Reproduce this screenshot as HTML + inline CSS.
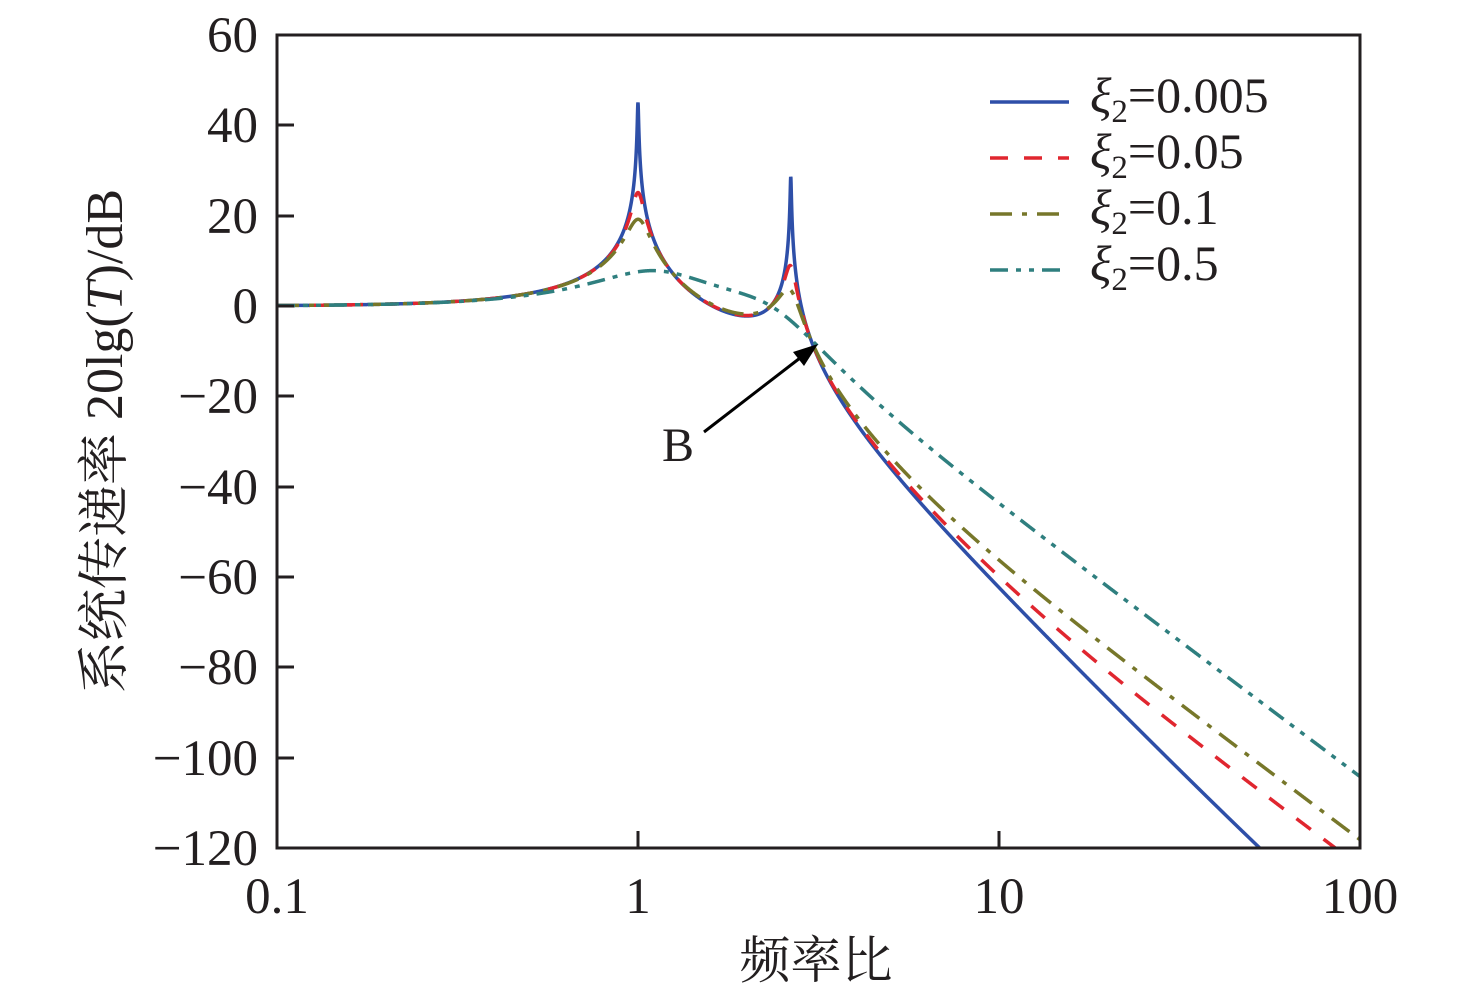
<!DOCTYPE html>
<html><head><meta charset="utf-8"><style>
html,body{margin:0;padding:0;background:#fff;}
svg text{font-family:"Liberation Serif","Noto Serif CJK SC",serif;fill:#231f20;}
</style></head><body>
<svg id="s" width="1476" height="998" viewBox="0 0 1476 998" xmlns="http://www.w3.org/2000/svg">
<defs><clipPath id="c"><rect x="277" y="35" width="1083" height="813"/></clipPath></defs>
<g id="curves" clip-path="url(#c)"></g>
<rect x="277" y="35" width="1083" height="813" fill="none" stroke="#231f20" stroke-width="3"/>
<g stroke="#231f20" stroke-width="3">
<line x1="638" y1="848" x2="638" y2="831"/><line x1="999" y1="848" x2="999" y2="831"/>
<line x1="277" y1="125" x2="294" y2="125"/><line x1="277" y1="216" x2="294" y2="216"/>
<line x1="277" y1="306" x2="294" y2="306"/><line x1="277" y1="396" x2="294" y2="396"/>
<line x1="277" y1="487" x2="294" y2="487"/><line x1="277" y1="577" x2="294" y2="577"/>
<line x1="277" y1="667" x2="294" y2="667"/><line x1="277" y1="758" x2="294" y2="758"/>
</g>
<g font-size="51" text-anchor="end">
<text x="258" y="52">60</text><text x="258" y="142">40</text><text x="258" y="233">20</text>
<text x="258" y="323">0</text><text x="258" y="413">−20</text><text x="258" y="504">−40</text>
<text x="258" y="594">−60</text><text x="258" y="684">−80</text><text x="258" y="775">−100</text>
<text x="258" y="865">−120</text>
</g>
<g font-size="51" text-anchor="middle">
<text x="277" y="913">0.1</text><text x="638" y="913">1</text><text x="999" y="913">10</text><text x="1360" y="913">100</text>
<text x="816" y="978" font-size="51">频率比</text>
</g>
<text transform="translate(122,441) rotate(-90)" font-size="52" text-anchor="middle">系统传递率 20lg(<tspan font-style="italic">T</tspan>)/dB</text>
<text x="662" y="461" font-size="48">B</text>
<line x1="704" y1="432" x2="800" y2="358" stroke="#000" stroke-width="3"/>
<polygon points="818,344 793,352 804,366" fill="#000"/>
<g stroke-width="3.5">
<line x1="990" y1="102" x2="1069" y2="102" stroke="#2e4fa8"/>
<line x1="990" y1="158" x2="1069" y2="158" stroke="#e0262f" stroke-dasharray="18,16"/>
<line x1="990" y1="214" x2="1059" y2="214" stroke="#77772a" stroke-dasharray="22,10,5,10"/>
<line x1="990" y1="270" x2="1064" y2="270" stroke="#2f7f7f" stroke-dasharray="18,8,5,8,5,8"/>
</g>
<g font-size="50">
<text x="1090" y="112"><tspan font-style="italic">ξ</tspan><tspan font-size="33" dy="10">2</tspan><tspan dy="-10">=0.005</tspan></text>
<text x="1090" y="168"><tspan font-style="italic">ξ</tspan><tspan font-size="33" dy="10">2</tspan><tspan dy="-10">=0.05</tspan></text>
<text x="1090" y="224"><tspan font-style="italic">ξ</tspan><tspan font-size="33" dy="10">2</tspan><tspan dy="-10">=0.1</tspan></text>
<text x="1090" y="280"><tspan font-style="italic">ξ</tspan><tspan font-size="33" dy="10">2</tspan><tspan dy="-10">=0.5</tspan></text>
</g>
</svg>
<script>
(function(){
var k1=5.44,k2=1.29;
function T(w,xi){
 var c2=2*xi*Math.sqrt(k2);
 var ar=k2, ai=w*c2;
 var nr=k1*ar, ni=k1*ai;
 var w2=w*w;
 var pr=k1+ar-w2, pi=ai, qr=ar-w2, qi=ai;
 var dr=pr*qr-pi*qi-(ar*ar-ai*ai), di=pr*qi+pi*qr-2*ar*ai;
 var m=Math.sqrt((nr*nr+ni*ni)/(dr*dr+di*di));
 return 20*Math.log10(m);
}
var ser=[[0.005,"#2e4fa8",""],[0.05,"#e0262f","18,16"],[0.1,"#77772a","22,10,5,10"],[0.5,"#2f7f7f","18,8,5,8,5,8"]];
var g=document.getElementById("curves"),ns="http://www.w3.org/2000/svg";
ser.forEach(function(s){
 var d="";
 for(var i=0;i<=6000;i++){
  var lx=-1+3*i/6000, r=Math.pow(10,lx);
  var y=306-T(r,s[0])*4.517, x=277+(lx+1)*361;
  if(y>900)y=900;
  d+=(i?"L":"M")+x.toFixed(2)+","+y.toFixed(2);
 }
 var p=document.createElementNS(ns,"path");
 p.setAttribute("d",d);p.setAttribute("fill","none");p.setAttribute("stroke",s[1]);
 p.setAttribute("stroke-width","3.5");if(s[2])p.setAttribute("stroke-dasharray",s[2]);
 g.appendChild(p);
});
})();
</script>
</body></html>
